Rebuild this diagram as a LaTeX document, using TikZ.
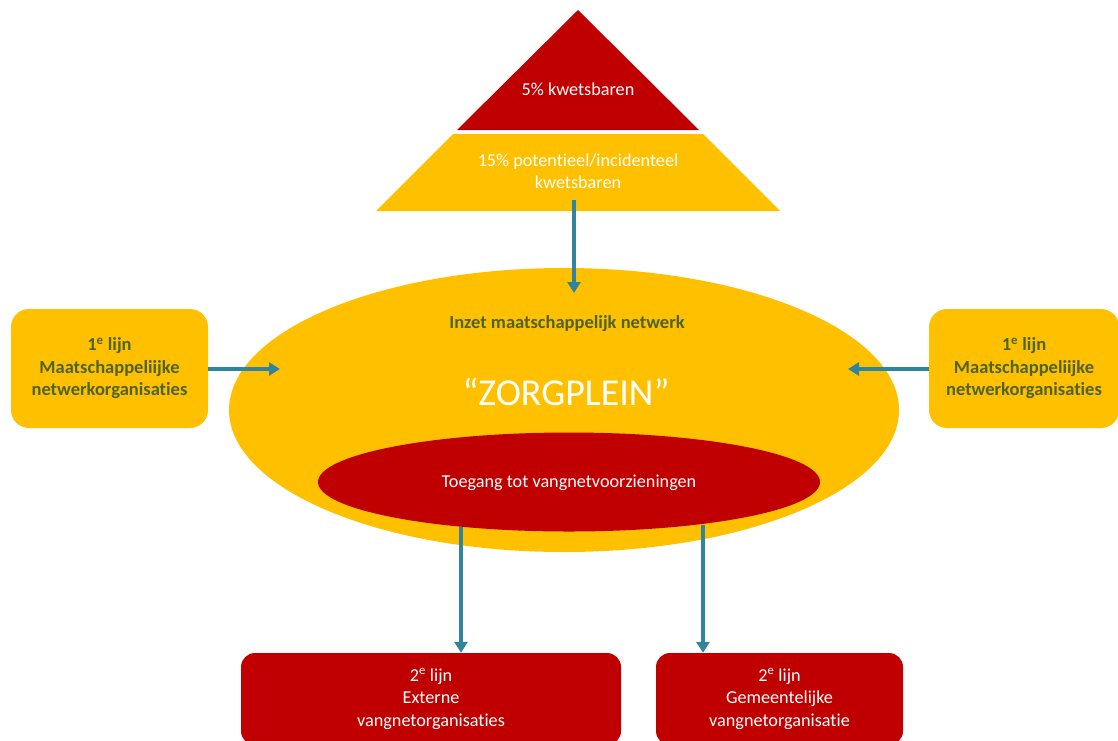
\documentclass[tikz,border=0pt]{standalone}
\usepackage{fontspec}
\setmainfont{Carlito}[Ligatures=NoCommon,RawFeature={-liga;-dlig;-clig}]
\usetikzlibrary{shapes.geometric,arrows.meta,positioning}
\definecolor{zrood}{HTML}{C00000}
\definecolor{zgeel}{HTML}{FFC000}
\definecolor{zgroen}{HTML}{4F6228}
\definecolor{zblauw}{HTML}{31849B}

\tikzset{
  tekst/.style={font=\fontsize{18.2}{22.5}\selectfont, align=center, inner sep=0pt},
  vet/.style={font=\fontsize{18.5}{22.5}\selectfont\bfseries},
  lijneen/.style={tekst, vet, fill=zgeel, text=zgroen, rounded corners=18pt},
  lijntwee/.style={tekst, fill=zrood, text=white, rounded corners=14pt},
  pijl/.style={draw=zblauw, line width=3.5pt, -{Triangle[width=13pt,length=11pt]}}
}

\begin{document}
\begin{tikzpicture}[x=1pt,y=-1pt]
  \clip (0,0) rectangle (1118,740);
  % piramide
  \fill[zrood] (578,10) -- (699,130) -- (457,130) -- cycle;
  \fill[zgeel] (453,134) -- (703,134) -- (780,211) -- (376,211) -- cycle;
  \node (kw5) [tekst, text=white] at (578,89) {5\% kwetsbaren};
  \node (kw15) [tekst, text=white] at (578,171) {15\% potentieel/incidenteel\\kwetsbaren};

  % zorgplein
  \node (zorg) [ellipse, fill=zgeel, minimum width=670pt, minimum height=284pt, inner sep=0pt] at (564,410) {};
  \node (toegang) [ellipse, fill=zrood, minimum width=502pt, minimum height=99pt, inner sep=0pt] at (569,482) {};
  \node (inzet) [tekst, vet, text=zgroen] at (567,324) {Inzet maatschappelijk netwerk};
  \node (plein) [tekst, text=white, font=\fontsize{38}{42}\selectfont] at (566,392) {“ZORGPLEIN”};
  \node (toegtxt) [tekst, text=white] at (569,483) {Toegang tot vangnetvoorzieningen};

  % 1e lijn
  \node (links) [lijneen, minimum width=197pt, minimum height=119pt] at (109.5,368.5)
    {1\textsuperscript{e} lijn\\Maatschappeliijke\\netwerkorganisaties};
  \node (rechts) [lijneen, minimum width=190pt, minimum height=119pt] at (1024,368.5)
    {1\textsuperscript{e} lijn\\Maatschappeliijke\\netwerkorganisaties};

  % 2e lijn
  \node (extern) [lijntwee, minimum width=380pt, minimum height=92pt] at (431,699)
    {2\textsuperscript{e} lijn\\Externe\\vangnetorganisaties};
  \node (gemeente) [lijntwee, minimum width=247pt, minimum height=92pt] at (779.5,699)
    {2\textsuperscript{e} lijn\\Gemeentelijke\\vangnetorganisatie};

  \coordinate (pirbodem) at (574,200);
  \coordinate (zorgtop) at (574,293);
  \coordinate (inlinks) at (280,369);
  \coordinate (inrechts) at (848,369);
  \coordinate (uitext) at (461,527);
  \coordinate (uitgem) at (703,525);

  \draw[pijl] (pirbodem) -- (zorgtop);
  \draw[pijl] (links.east |- inlinks) -- (inlinks);
  \draw[pijl] (rechts.west |- inrechts) -- (inrechts);
  \draw[pijl] (uitext) -- (uitext |- extern.north);
  \draw[pijl] (uitgem) -- (uitgem |- gemeente.north);
\end{tikzpicture}
\end{document}
